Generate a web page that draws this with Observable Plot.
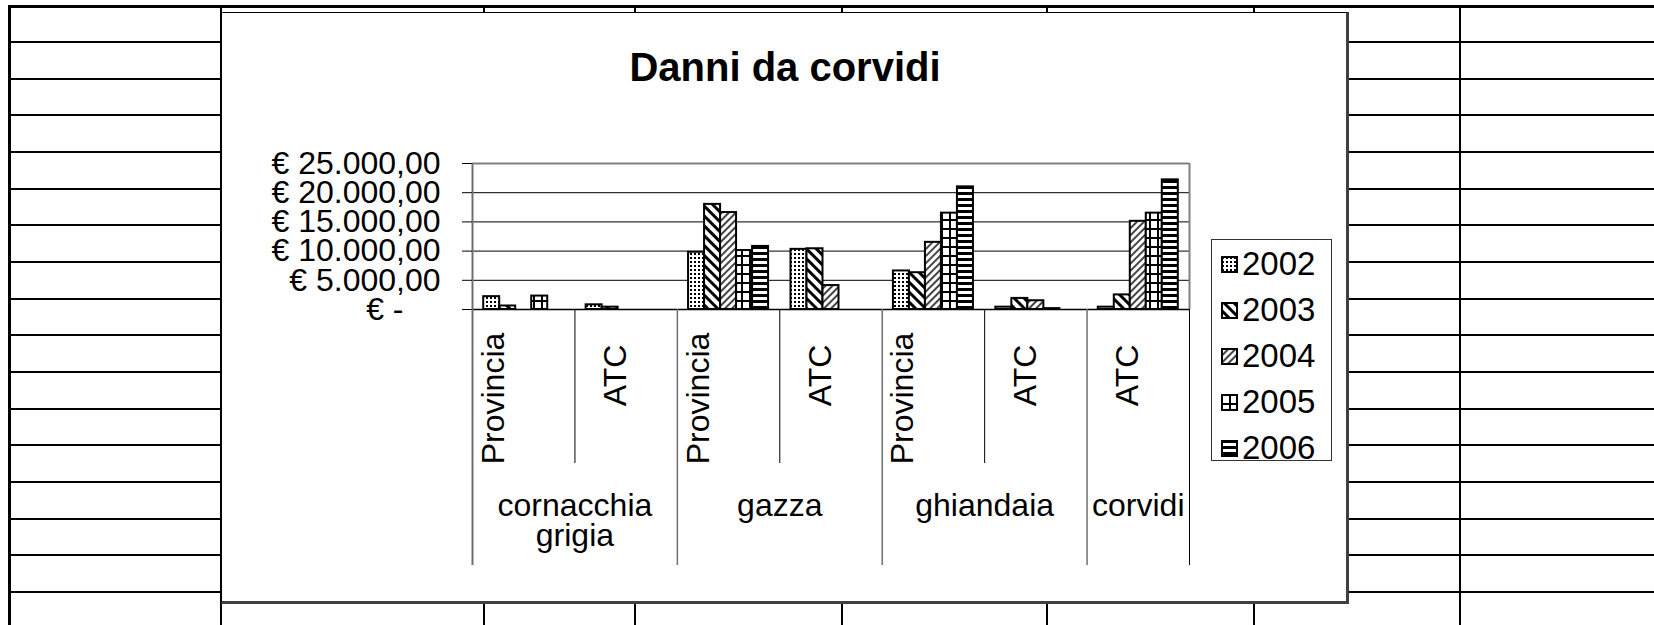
<!DOCTYPE html>
<html>
<head>
<meta charset="utf-8">
<script src="https://cdn.jsdelivr.net/npm/d3@7"></script>
<script src="https://cdn.jsdelivr.net/npm/@observablehq/plot@0.6"></script>
<style>
  html, body { margin: 0; padding: 0; background: #fff; }
  #page { position: relative; width: 1654px; height: 625px; overflow: hidden; background: #fff;
          font-family: "Liberation Sans", Arial, sans-serif; color: #000; }
  .ln { position: absolute; background: #000; }
  #frame { position: absolute; left: 221px; top: 12px; width: 1128px; height: 592px; box-sizing: border-box;
           background: #fff; border-left: 1px solid #000; border-top: 1px solid #000;
           border-right: 3px solid #404040; border-bottom: 3px solid #404040; }
  #title { position: absolute; left: 221px; width: 1128px; top: 47px; text-align: center;
           font-weight: bold; font-size: 40px; line-height: 40px; }
  #chart { position: absolute; left: 221px; top: 12px; }
  #legend { position: absolute; left: 1211px; top: 239px; width: 121px; height: 222px; box-sizing: border-box;
            border: 1px solid #333; background: #fff; }
  .item { position: absolute; left: 9px; height: 34px; display: flex; align-items: center; font-size: 33px; }
  .item svg { margin-right: 4px; }
</style>
</head>
<body>
<div id="page">
  <svg width="0" height="0" style="position:absolute">
    <defs>
      <pattern id="p2002" patternUnits="userSpaceOnUse" width="4" height="4">
        <rect width="4" height="4" fill="#fff"/>
        <rect x="1" y="1" width="2" height="2" fill="#000"/>
      </pattern>
      <pattern id="p2003" patternUnits="userSpaceOnUse" width="7" height="7" patternTransform="rotate(-45)">
        <rect width="7" height="7" fill="#fff"/>
        <rect width="3" height="7" fill="#000"/>
      </pattern>
      <pattern id="p2004" patternUnits="userSpaceOnUse" width="5" height="5" patternTransform="rotate(45)">
        <rect width="5" height="5" fill="#fff"/>
        <rect width="2" height="5" fill="#444"/>
      </pattern>
      <pattern id="p2005" patternUnits="userSpaceOnUse" width="8" height="9">
        <rect width="8" height="9" fill="#fff"/>
        <rect width="8" height="2" fill="#000"/>
        <rect width="2" height="9" fill="#000"/>
      </pattern>
      <pattern id="p2006" patternUnits="userSpaceOnUse" width="6" height="6">
        <rect width="6" height="6" fill="#fff"/>
        <rect width="6" height="3" fill="#000"/>
      </pattern>
    </defs>
  </svg>
  <div id="frame"></div>
  <div id="title">Danni da corvidi</div>
  <div id="chart"></div>
  <div id="legend"></div>
</div>
<script>
// ---- data ----
const groups = ["cornacchia grigia", "cornacchia grigia", "gazza", "gazza", "ghiandaia", "ghiandaia", "corvidi"];
const subs   = ["Provincia", "ATC", "Provincia", "ATC", "Provincia", "ATC", "ATC"];
const years  = ["2002", "2003", "2004", "2005", "2006"];
const v2002 = [2200, 800, 9800, 10300, 6600, 400, 400];
const v2003 = [600, 400, 18000, 10400, 6300, 1900, 2500];
const v2004 = [0, 0, 16600, 4100, 11500, 1500, 15100];
const v2005 = [2300, 0, 10100, 0, 16500, 150, 16500];
const v2006 = [0, 0, 10800, 0, 21000, 0, 22200];
const yTicks = [0, 5000, 10000, 15000, 20000, 25000];

// ---- spreadsheet background ----
const page = document.getElementById("page");
function line(l, t, w, h) {
  const d = document.createElement("div");
  d.className = "ln";
  Object.assign(d.style, {left: l + "px", top: t + "px", width: w + "px", height: h + "px"});
  page.insertBefore(d, document.getElementById("frame"));
}
for (let k = 0; k < 16; k++) line(8, Math.round(42 + 36.67 * k) - 1, 1646, 2);
for (const x of [221, 484, 635, 842, 1047, 1254, 1460]) line(x - 1, 6, 2, 619);
line(8, 5, 1646, 3);
line(8, 5, 3, 620);

// ---- table ----
const series = [v2002, v2003, v2004, v2005, v2006];
const keys = groups.map((g, i) => g + "|" + subs[i]);
const cats = keys.map((key, i) => ({key, group: groups[i], sub: subs[i]}));
const rows = [];
years.forEach((yr, j) => keys.forEach((key, i) => rows.push({key, year: yr, value: series[j][i]})));
const groupList = [];
cats.forEach((c, i) => {
  if (i === 0 || groups[i] !== groups[i - 1]) groupList.push({group: c.group, first: c.key, n: 1});
  else groupList[groupList.length - 1].n++;
});
const innerKeys = cats.filter((c, i) => i > 0 && groups[i] === groups[i - 1]).map(c => c.key);

// ---- layout ----
const W = 1128, H = 592;
const mL = 251, mR = 160, mT = 151, mB = 39;
const y0 = 297;                       // pixel of value 0 inside svg
const plotH = y0 - mT;
const bw = (W - mL - mR) / keys.length;
const barW = bw / 6.4, pad = 0.7 * barW;

const loc = d3.formatLocale({decimal: ",", thousands: ".", grouping: [3], currency: ["€ ", ""]});
const euro = loc.format("$,.2f");

const marks = [
  Plot.ruleY(yTicks.filter(v => v > 0 && v < 25000), {stroke: "#000", strokeWidth: 1}),
  Plot.ruleY([25000], {stroke: "#808080", strokeWidth: 2}),
  ...years.map((yr, j) => Plot.barY(rows.filter(d => d.year === yr && d.value > 0), {
    x: "key", y: "value", fill: `url(#p${yr})`, stroke: "#000", strokeWidth: 2,
    insetLeft: pad + j * barW, insetRight: bw - pad - (j + 1) * barW
  })),
  Plot.ruleY([0], {stroke: "#000", strokeWidth: 1.5}),
  Plot.ruleX([keys[0]], {x: d => d, dx: -bw / 2, stroke: "#707070", strokeWidth: 2}),
  Plot.ruleX([keys[keys.length - 1]], {x: d => d, dx: bw / 2, y1: 0, y2: 25000, stroke: "#808080", strokeWidth: 2}),
  Plot.ruleX([keys[keys.length - 1]], {x: d => d, dx: bw / 2, insetTop: plotH, stroke: "#000", strokeWidth: 1}),
  Plot.ruleX(groupList.slice(1).map(g => g.first), {x: d => d, dx: -bw / 2, insetTop: plotH, stroke: "#707070", strokeWidth: 1.5}),
  Plot.ruleX(innerKeys, {x: d => d, dx: -bw / 2, insetTop: plotH, insetBottom: 102, stroke: "#000", strokeWidth: 1}),
  Plot.axisY(yTicks, {tickSize: 10, tickPadding: 22, tickFormat: d => d === 0 ? "" : euro(d), label: null, fontSize: 32}),
  Plot.text([0], {y: d => d, text: () => "€ -", frameAnchor: "left", textAnchor: "end", dx: -69, fontSize: 32}),
  Plot.text(cats.filter(c => c.sub === "Provincia"), {x: "key", text: "sub", rotate: -90, frameAnchor: "bottom", dy: -167, dx: -20, fontSize: 32}),
  Plot.text(cats.filter(c => c.sub === "ATC"), {x: "key", text: "sub", rotate: -90, frameAnchor: "bottom", dy: -190, fontSize: 32}),
  Plot.text(groupList.filter(g => g.n === 2), {x: "first", text: "group", frameAnchor: "bottom", dy: -71, dx: bw / 2,
    lineAnchor: "top", lineWidth: 6.2, lineHeight: 0.94, fontSize: 32}),
  Plot.text(groupList.filter(g => g.n === 1), {x: "first", text: "group", frameAnchor: "bottom", dy: -71,
    lineAnchor: "top", lineWidth: 6.2, lineHeight: 0.94, fontSize: 32})
];

const chart = Plot.plot({
  width: W, height: H,
  marginLeft: mL, marginRight: mR, marginTop: mT, marginBottom: mB,
  x: {domain: keys, padding: 0, round: false, axis: null},
  y: {domain: [0, 25000], range: [y0, mT], axis: null},
  style: {background: "transparent", overflow: "visible", fontFamily: "'Liberation Sans', Arial, sans-serif", fontSize: "32px", color: "#000"},
  marks
});
document.getElementById("chart").appendChild(chart);

// ---- legend ----
const legend = document.getElementById("legend");
years.forEach((yr, j) => {
  const it = document.createElement("div");
  it.className = "item";
  it.style.top = (7 + 46 * j) + "px";
  it.innerHTML = `<svg width="17" height="17"><rect x="1" y="1" width="15" height="15" fill="url(#p${yr})" stroke="#000" stroke-width="2"/></svg><span>${yr}</span>`;
  legend.appendChild(it);
});
</script>
</body>
</html>
